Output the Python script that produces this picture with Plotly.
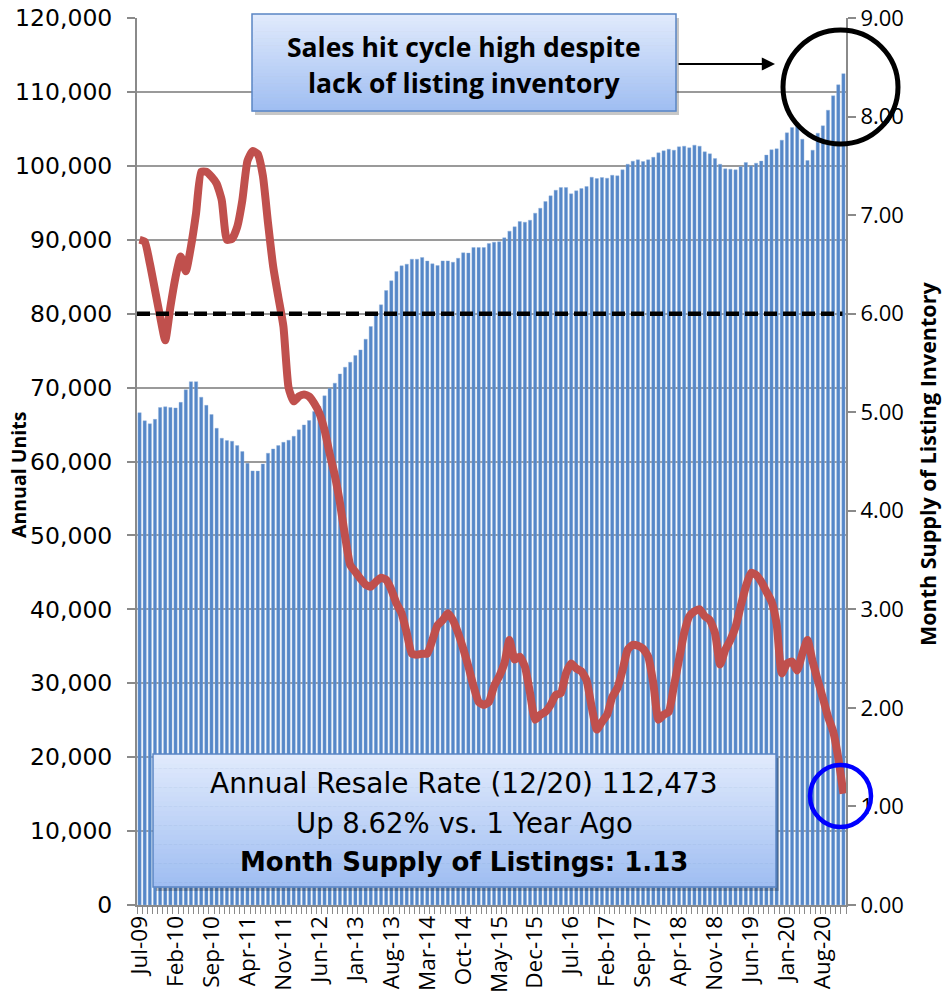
import plotly.graph_objects as go

# Monthly labels Jul-09 .. Dec-20
month_names = ["Jan", "Feb", "Mar", "Apr", "May", "Jun",
               "Jul", "Aug", "Sep", "Oct", "Nov", "Dec"]
months = []
for yr in range(2009, 2021):
    for m in range(12):
        if yr == 2009 and m < 6:
            continue
        months.append(f"{month_names[m]}-{yr % 100:02d}")

# Annual resale units (rolling 12 months)
annual_units = [
    66600, 65500, 65100, 65700, 67300, 67400, 67300, 67250, 68000, 69700,
    70800, 70800, 68700, 67600, 66350, 64500, 63150, 62830, 62740, 62150,
    61340, 59770, 58730, 58700, 59670, 61120, 61700, 62150, 62600, 62880,
    63420, 64280, 64950, 65540, 66760, 67430, 68880, 69920, 70600, 71850,
    72760, 73440, 74330, 75100, 76550, 78260, 79840, 81190, 83130, 84440,
    85700, 86470, 86700, 87370, 87370, 87600, 87120, 86740, 86510, 87140,
    87140, 86960, 87500, 88230, 88200, 88950, 88950, 88950, 89490, 89670,
    89720, 90260, 91160, 91750, 92470, 92380, 92650, 93600, 94270, 95170,
    95940, 96700, 97060, 97060, 96210, 96620, 96930, 97200, 98460, 98280,
    98420, 98330, 98730, 98650, 99460, 100220, 100630, 100810, 100580, 100810,
    101160, 101760, 102030, 102250, 102120, 102570, 102660, 102440, 102800, 102660,
    101890, 101620, 100990, 100220, 99590, 99550, 99460, 99910, 100450, 100000,
    100360, 100640, 101450, 102170, 102300, 103470, 104460, 105170, 105400, 103610,
    100720, 102120, 104420, 105410, 107530, 109470, 110960, 112473,
]

# Month supply of listing inventory
month_supply = [
    6.75, 6.73, 6.51, 6.24, 5.97, 5.73, 6.07, 6.37, 6.58, 6.43,
    6.68, 7.02, 7.44, 7.44, 7.39, 7.32, 7.15, 6.75, 6.76, 6.88,
    7.15, 7.55, 7.65, 7.62, 7.40, 6.92, 6.48, 6.17, 5.87, 5.25,
    5.11, 5.16, 5.18, 5.16, 5.09, 4.99, 4.82, 4.58, 4.36, 4.08,
    3.74, 3.45, 3.38, 3.31, 3.25, 3.23, 3.28, 3.32, 3.30, 3.20,
    3.06, 2.96, 2.76, 2.55, 2.54, 2.55, 2.55, 2.69, 2.84, 2.89,
    2.96, 2.89, 2.76, 2.60, 2.42, 2.22, 2.06, 2.03, 2.06, 2.22,
    2.32, 2.45, 2.69, 2.49, 2.52, 2.42, 2.15, 1.88, 1.93, 1.96,
    2.03, 2.13, 2.15, 2.35, 2.45, 2.40, 2.37, 2.28, 2.01, 1.78,
    1.86, 1.93, 2.11, 2.20, 2.38, 2.59, 2.64, 2.63, 2.60, 2.52,
    2.25, 1.88, 1.93, 1.96, 2.22, 2.49, 2.76, 2.93, 2.98, 3.00,
    2.93, 2.89, 2.76, 2.44, 2.59, 2.69, 2.82, 3.03, 3.23, 3.37,
    3.35, 3.28, 3.18, 3.08, 2.85, 2.35, 2.45, 2.47, 2.38, 2.55,
    2.69, 2.47, 2.28, 2.10, 1.91, 1.76, 1.49, 1.13,
]

balanced_market = 6.0
label_step = 7

x_idx = list(range(len(months)))

W, H = 942, 1004
L, R, T, B = 137, 96, 18, 99
PW, PH = W - L - R, H - T - B


def px(X):
    return (X - L) / PW


def py(Y):
    return (H - B - Y) / PH


fig = go.Figure()

fig.add_trace(go.Bar(
    x=x_idx, y=annual_units, name="Annual Units",
    marker=dict(color="#5587c8", line=dict(color="#8fb0dc", width=0.4)),
    yaxis="y",
))

fig.add_trace(go.Scatter(
    x=x_idx, y=month_supply, name="Month Supply",
    mode="lines", line=dict(color="#c0504d", width=8, shape="spline", smoothing=0.5),
    yaxis="y2",
))

shapes = []

# balanced-market reference line
shapes.append(dict(type="line", xref="paper", yref="y2", x0=0.0, x1=0.995,
                   y0=balanced_market, y1=balanced_market, layer="above",
                   line=dict(color="black", width=4.5, dash="13px,6px")))


def gradient_box(x0, y0, x1, y1, top=(224, 234, 252), bottom=(160, 190, 242), n=28):
    out = []
    # drop shadow
    out.append(dict(type="rect", xref="paper", yref="paper", layer="above",
                    x0=px(x0 + 3), x1=px(x1 + 3), y0=py(y1 + 4), y1=py(y0 + 4),
                    fillcolor="rgba(0,0,0,0.22)", line=dict(width=0)))
    h = (y1 - y0) / n
    for k in range(n):
        t = k / (n - 1)
        c = tuple(round(top[j] + (bottom[j] - top[j]) * t) for j in range(3))
        out.append(dict(type="rect", xref="paper", yref="paper", layer="above",
                        x0=px(x0), x1=px(x1), y0=py(y0 + (k + 1) * h + 0.5), y1=py(y0 + k * h),
                        fillcolor=f"rgb{c}", line=dict(width=0)))
    out.append(dict(type="rect", xref="paper", yref="paper", layer="above",
                    x0=px(x0), x1=px(x1), y0=py(y1), y1=py(y0),
                    fillcolor="rgba(0,0,0,0)", line=dict(color="#5a85c4", width=1.5)))
    return out


shapes += gradient_box(252, 14, 676, 111)
shapes += gradient_box(153, 754, 776, 887)

# highlight circles
shapes.append(dict(type="circle", xref="paper", yref="paper", layer="above",
                   x0=px(783), x1=px(898), y0=py(144), y1=py(30),
                   line=dict(color="black", width=5)))
shapes.append(dict(type="circle", xref="paper", yref="paper", layer="above",
                   x0=px(810), x1=px(871), y0=py(827), y1=py(765),
                   line=dict(color="#0000ff", width=4.5)))

annotations = []
box_font_b = dict(family="Open Sans", size=26.5, color="black")
annotations.append(dict(xref="paper", yref="paper", x=px(464), y=py(47),
                        text="<b>Sales hit cycle high despite</b>", showarrow=False,
                        font=box_font_b, xanchor="center", yanchor="middle"))
annotations.append(dict(xref="paper", yref="paper", x=px(464), y=py(83),
                        text="<b>lack of listing inventory</b>", showarrow=False,
                        font=box_font_b, xanchor="center", yanchor="middle"))
annotations.append(dict(xref="paper", yref="paper", x=px(775), y=py(64),
                        ax=-98, ay=0, text="", showarrow=True, arrowhead=2,
                        arrowsize=1.2, arrowwidth=2.2, arrowcolor="black", standoff=0))

info_lines = [
    (f"Annual Resale Rate (12/20) {annual_units[-1]:,}", 28, 783),
    ("Up 8.62% vs. 1 Year Ago", 27.5, 823),
    (f"<b>Month Supply of Listings: {month_supply[-1]:.2f}</b>", 26, 862),
]
for line_text, fsize, yy in info_lines:
    annotations.append(dict(xref="paper", yref="paper", x=px(464), y=py(yy),
                            text=line_text, showarrow=False,
                            font=dict(family="DejaVu Sans", size=fsize, color="black"),
                            xanchor="center", yanchor="middle"))

# axis titles
annotations.append(dict(xref="paper", yref="paper", x=px(19), y=py(475),
                        text="<b>Annual Units</b>", textangle=-90, showarrow=False,
                        font=dict(family="Open Sans", size=19.5, color="black"),
                        xanchor="center", yanchor="middle"))
annotations.append(dict(xref="paper", yref="paper", x=px(927), y=py(464),
                        text="<b>Month Supply of Listing Inventory</b>", textangle=-90,
                        showarrow=False,
                        font=dict(family="Open Sans", size=21.5, color="black"),
                        xanchor="center", yanchor="middle"))

fig.update_layout(
    width=W, height=H,
    margin=dict(l=L, r=R, t=T, b=B, pad=0, autoexpand=False),
    paper_bgcolor="white", plot_bgcolor="white",
    showlegend=False, bargap=0.36,
    shapes=shapes, annotations=annotations,
    xaxis=dict(
        range=[-0.5, len(months) - 0.5], automargin=False,
        tickvals=x_idx[::label_step], ticktext=months[::label_step],
        tickangle=-90, ticks="", showgrid=False, zeroline=False,
        showline=True, linecolor="#8a8a8a", linewidth=2,
        tickfont=dict(family="Open Sans", size=22.5, color="black"),
        minor=dict(ticks="outside", ticklen=7, tickwidth=1, tickcolor="#8a8a8a",
                   tick0=-0.5, dtick=1, showgrid=False),
    ),
    yaxis=dict(
        range=[0, 120000], dtick=10000, tickformat=",d", automargin=False,
        showgrid=True, gridcolor="#9a9a9a", gridwidth=1.5, zeroline=False,
        showline=True, linecolor="#8a8a8a", linewidth=2,
        ticks="outside", ticklen=8, tickcolor="#8a8a8a", tickwidth=1.5,
        ticklabelstandoff=10,
        tickfont=dict(family="DejaVu Sans", size=23.5, color="black"),
    ),
    yaxis2=dict(
        range=[0, 9], dtick=1, tickformat=".2f", overlaying="y", side="right",
        automargin=False,
        showgrid=False, zeroline=False,
        showline=True, linecolor="#8a8a8a", linewidth=2,
        ticks="outside", ticklen=8, tickcolor="#8a8a8a", tickwidth=1.5,
        tickfont=dict(family="Open Sans", size=22, color="black"),
    ),
)

fig.write_html("out.html")
